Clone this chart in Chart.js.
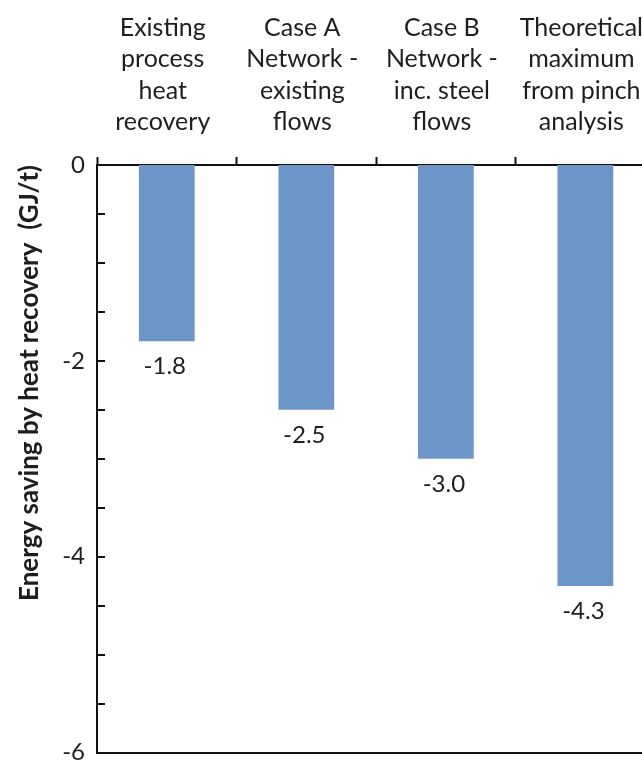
<!DOCTYPE html>
<html>
<head>
<meta charset="utf-8">
<script src="https://cdn.jsdelivr.net/npm/chart.js@4/dist/chart.umd.min.js"></script>
<style>
  html, body { margin: 0; padding: 0; background: #fff; overflow: hidden; }
  #wrap { width: 642px; height: 763px; overflow: hidden; position: relative; }
  canvas { display: block; }
</style>
</head>
<body>
<div id="wrap"><canvas id="c"></canvas></div>
<script>
const categories = [
  ["Existing", "process", "heat", "recovery"],
  ["Case A", "Network -", "existing", "flows"],
  ["Case B", "Network -", "inc. steel", "flows"],
  ["Theoretical", "maximum", "from pinch", "analysis"]
];
const savings = [-1.8, -2.5, -3.0, -4.3];
const yMin = -6, yMax = 0, yStep = 0.5, yLabelEvery = 2;
const yTitle = "Energy saving by heat recovery  (GJ/t)";

const FONT = "Lato, 'Open Sans', sans-serif";
const TEXT = "#1e1e1e";
const AXIS = "#111";
const BAR = "#6c96c8";

// target plot frame inside the 642x763 view (the last category runs past the right edge)
const AREA = { left: 97, top: 165, right: 655, bottom: 753 };

const innerTicks = {
  id: "innerTicks",
  afterDraw(chart) {
    const { ctx, chartArea } = chart;
    const ys = chart.scales.y;
    ctx.save();
    ctx.strokeStyle = AXIS;
    ctx.lineWidth = 2;
    ys.ticks.forEach(t => {
      const y = Math.round(ys.getPixelForValue(t.value));
      ctx.beginPath();
      ctx.moveTo(chartArea.left, y);
      ctx.lineTo(chartArea.left + 8, y);
      ctx.stroke();
    });
    ctx.restore();
  }
};

const valueLabels = {
  id: "valueLabels",
  afterDatasetsDraw(chart) {
    const { ctx } = chart;
    const meta = chart.getDatasetMeta(0);
    ctx.save();
    ctx.font = "24px " + FONT;
    ctx.fillStyle = TEXT;
    ctx.textAlign = "center";
    ctx.textBaseline = "middle";
    meta.data.forEach((bar, i) => {
      ctx.fillText(savings[i].toFixed(1), bar.x - 2, bar.y + 25);
    });
    ctx.restore();
  }
};

function config() {
  return {
    type: "bar",
    data: {
      labels: categories,
      datasets: [{
        data: savings,
        backgroundColor: BAR,
        borderWidth: 0,
        barPercentage: 0.4,
        categoryPercentage: 1.0,
        xAxisID: "x",
        yAxisID: "y"
      }]
    },
    options: {
      responsive: false,
      maintainAspectRatio: false,
      animation: false,
      devicePixelRatio: 1,
      layout: { padding: 0 },
      plugins: { legend: { display: false }, tooltip: { enabled: false } },
      scales: {
        x: {
          type: "category",
          position: "top",
          offset: true,
          grid: {
            display: true,
            offset: true,
            drawOnChartArea: false,
            drawTicks: true,
            tickLength: 8,
            tickWidth: 2,
            tickColor: AXIS
          },
          border: { display: true, color: AXIS, width: 2 },
          ticks: {
            color: TEXT,
            font: { family: FONT, size: 25, lineHeight: 1.26 },
            padding: 19,
            labelOffset: -4,
            maxRotation: 0,
            minRotation: 0,
            autoSkip: false
          },
          afterFit(s) { s.height = AREA.top; }
        },
        x2: {
          type: "category",
          position: "bottom",
          offset: true,
          grid: { display: false, drawTicks: false },
          border: { display: true, color: AXIS, width: 2 },
          ticks: { display: false },
          afterFit(s) { s.height = 10; }
        },
        y: {
          type: "linear",
          position: "left",
          min: yMin,
          max: yMax,
          grid: { display: false, drawTicks: false },
          border: { display: true, color: AXIS, width: 2 },
          ticks: {
            stepSize: yStep,
            autoSkip: false,
            color: TEXT,
            font: { family: FONT, size: 24 },
            padding: 12,
            callback(v) {
              return Math.abs(v % yLabelEvery) < 1e-9 ? String(v) : "";
            }
          },
          title: {
            display: true,
            text: yTitle,
            align: "end",
            color: TEXT,
            font: { family: FONT, size: 26, weight: "bold", lineHeight: 1.2 },
            padding: { top: 14, bottom: 0 }
          },
          afterFit(s) { s.width = AREA.left; }
        }
      }
    },
    plugins: [innerTicks, valueLabels]
  };
}

const canvas = document.getElementById("c");
function make(w, h) {
  canvas.width = w; canvas.height = h;
  canvas.style.width = w + "px"; canvas.style.height = h + "px";
  return new Chart(canvas, config());
}
let w = 680, h = 778;
let chart = make(w, h);
for (let k = 0; k < 5; k++) {
  const ca = chart.chartArea;
  const dw = AREA.right - ca.right, dh = AREA.bottom - ca.bottom;
  if (Math.abs(dw) < 0.5 && Math.abs(dh) < 0.5) break;
  chart.destroy();
  w = Math.round(w + dw); h = Math.round(h + dh);
  chart = make(w, h);
}
</script>
</body>
</html>
